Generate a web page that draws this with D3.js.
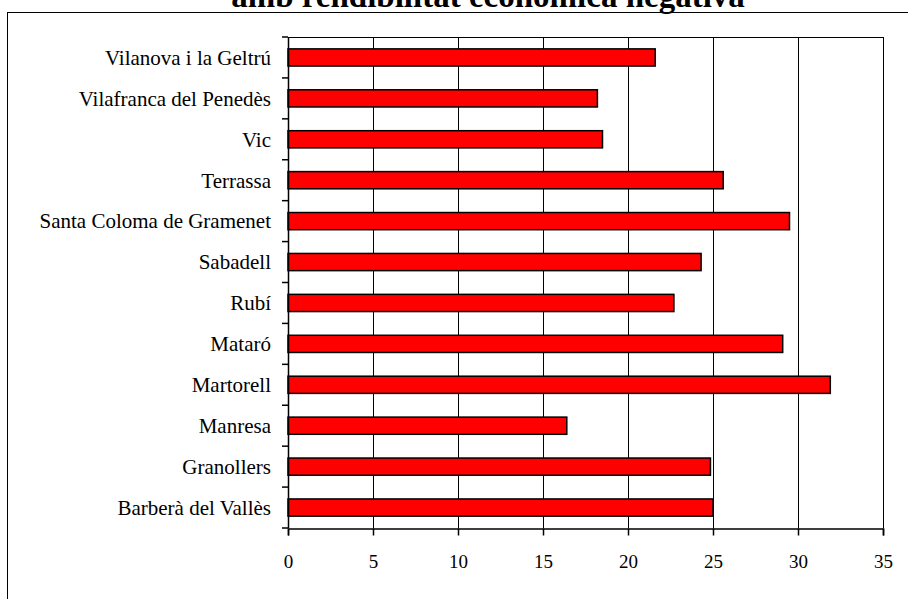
<!DOCTYPE html>
<html>
<head>
<meta charset="utf-8">
<script src="https://cdn.jsdelivr.net/npm/d3@7"></script>
<style>
  body { margin: 0; background: #fff; }
  text { font-family: "Liberation Serif", "Times New Roman", serif; }
</style>
</head>
<body>
<div id="chart"></div>
<script>
var width = 908,
    height = 599;

// dades (de dalt a baix)
var municipis = ["Vilanova i la Geltrú", "Vilafranca del Penedès", "Vic", "Terrassa",
  "Santa Coloma de Gramenet", "Sabadell", "Rubí", "Mataró", "Martorell", "Manresa",
  "Granollers", "Barberà del Vallès"];
var valors = [21.6, 18.2, 18.5, 25.6, 29.5, 24.3, 22.7, 29.1, 31.9, 16.4, 24.85, 25.0];
var ticksX = [0, 5, 10, 15, 20, 25, 30, 35];
var titol = "amb rendibilitat econòmica negativa";

var pLeft = 288, pRight = 883, pTop = 37, pBottom = 528;

var svg = d3.select("#chart")
  .append("svg")
    .attr("width", width)
    .attr("height", height);

// marc exterior
svg.append("rect")
  .attr("x", 7.5).attr("y", 12.5)
  .attr("width", 1000).attr("height", 1000)
  .attr("fill", "none").attr("stroke", "#000");

svg.append("text")
  .attr("x", 488).attr("y", 7)
  .attr("text-anchor", "middle")
  .style("font-weight", "bold")
  .style("font-size", "33px")
  .text(titol);

var x = d3.scaleLinear().domain([0, 35]).range([pLeft, pRight]);
var y = d3.scaleBand().domain(municipis).range([pTop, pBottom]).paddingInner(0.58).paddingOuter(0.29);
var yb = d3.scaleBand().domain(municipis).range([pTop, pBottom]);

// línies de graella
svg.append("g")
  .selectAll("line")
  .data(ticksX.slice(1))
  .enter()
  .append("line")
    .attr("x1", function(d) { return Math.round(x(d)) + 0.5; })
    .attr("x2", function(d) { return Math.round(x(d)) + 0.5; })
    .attr("y1", pTop).attr("y2", pBottom)
    .attr("stroke", "#000");

svg.append("line")
  .attr("x1", pLeft).attr("x2", pRight + 1)
  .attr("y1", pTop + 0.5).attr("y2", pTop + 0.5)
  .attr("stroke", "#000");

// barres
svg.append("g")
  .selectAll("rect")
  .data(valors)
  .enter()
  .append("rect")
    .attr("x", x(0))
    .attr("y", function(d, i) { return y(municipis[i]); })
    .attr("width", function(d) { return x(d) - x(0); })
    .attr("height", y.bandwidth())
    .attr("fill", "#ff0000")
    .attr("stroke", "#000")
    .attr("stroke-width", 1.5);

// eix X
var xAxis = svg.append("g")
  .attr("transform", "translate(0," + (pBottom + 0.5) + ")")
  .call(d3.axisBottom(x).tickValues(ticksX).tickSize(7).tickPadding(19));
xAxis.selectAll("text").style("font-size", "19px").attr("fill", "#000");
xAxis.selectAll("line, path").attr("stroke", "#000").attr("stroke-width", 1.5);

// eix Y
var ticksY = d3.range(municipis.length + 1).map(function(i) { return pTop + i * yb.step(); });
svg.append("line")
  .attr("x1", pLeft + 0.5).attr("x2", pLeft + 0.5)
  .attr("y1", pTop).attr("y2", pBottom)
  .attr("stroke", "#000").attr("stroke-width", 1.5);
svg.append("g")
  .selectAll("line")
  .data(ticksY)
  .enter()
  .append("line")
    .attr("x1", pLeft - 6).attr("x2", pLeft)
    .attr("y1", function(d) { return d; })
    .attr("y2", function(d) { return d; })
    .attr("stroke", "#000").attr("stroke-width", 1.5);

svg.append("g")
  .selectAll("text")
  .data(municipis)
  .enter()
  .append("text")
    .attr("x", 271)
    .attr("y", function(d) { return yb(d) + yb.bandwidth() / 2; })
    .attr("dy", "0.35em")
    .attr("text-anchor", "end")
    .style("font-size", "21px")
    .text(function(d) { return d; });
</script>
</body>
</html>
